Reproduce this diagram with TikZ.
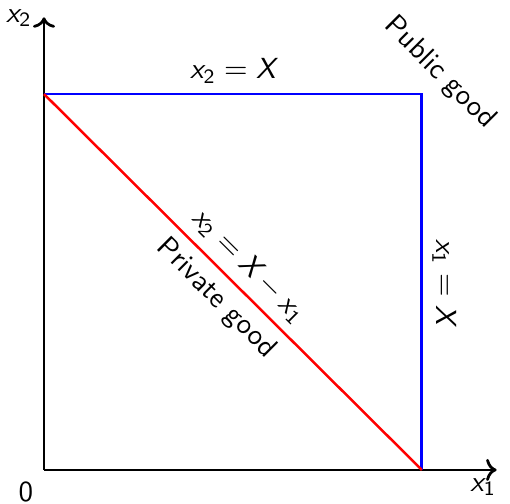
\documentclass[tikz,border=0pt]{standalone}
\usepackage{amsmath}
\usetikzlibrary{arrows.meta, positioning}

\newcommand{\gx}[1]{\textit{x}_{\textsf{#1}}}
\newcommand{\gX}{\textit{X}}

\begin{document}
\begin{tikzpicture}[
    font=\sffamily\fontsize{10.5}{12.5}\selectfont,
    axis/.style={->, line width=1pt},
    budget/.style={draw=blue, line width=1pt},
    diag/.style={draw=red, line width=0.9pt},
]
\useasboundingbox (-0.559,-0.432) rectangle (5.92,5.97);

% axes
\coordinate (O) at (0, 0);
\coordinate (xend) at (5.75, 0);
\coordinate (yend) at (0, 5.75);
\draw[axis] (O) -- (xend);
\draw[axis] (O) -- (yend);
\node (zero) at (-0.23, -0.28) {0};
\node (xlab) at (5.58, -0.22) {$\gx{1}$};
\node (ylab) at (-0.32, 5.74) {$\gx{2}$};

% public good
\coordinate (tl) at (0, 4.775);
\coordinate (tr) at (4.8, 4.775);
\coordinate (br) at (4.8, 0);
\draw[budget] (tl) -- node[above] (toplab) {$\gx{2} = \gX$} (tr)
    -- node[rotate=-90, anchor=south] (sidelab) {$\gx{1} = \gX$} (br);
\node[rotate=-45] (publab) at (5.03, 5.04) {Public good};

% private good
\draw[diag] (tl) -- node[sloped, above] (eqlab) {$\gx{2} = \gX - \gx{1}$}
    node[sloped, below] (privlab) {Private good} (br);

\end{tikzpicture}
\end{document}
